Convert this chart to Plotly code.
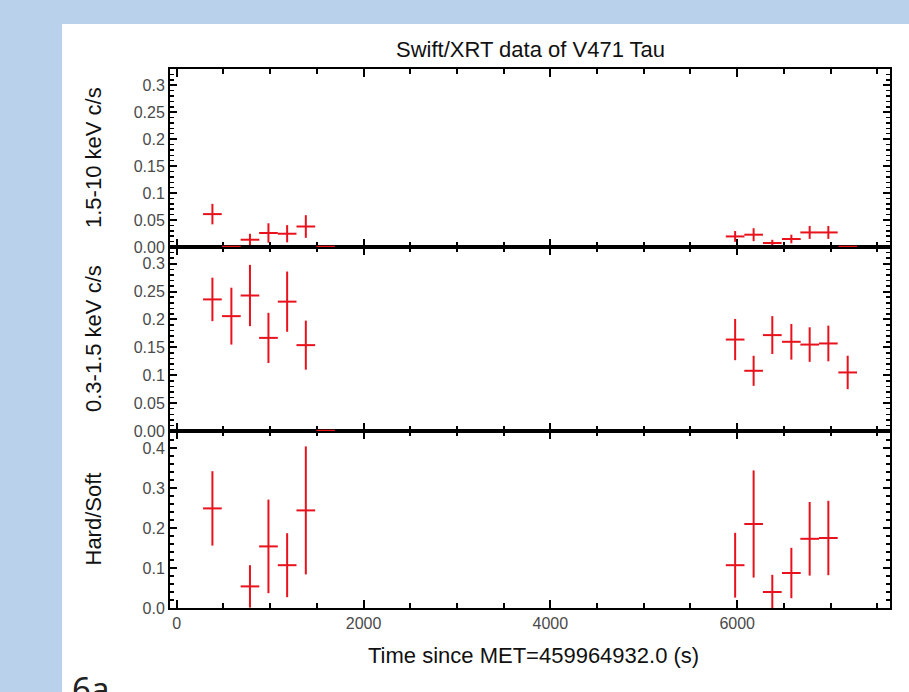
import plotly.graph_objects as go
from plotly.subplots import make_subplots

# ---------------- data ----------------
title_text = "Swift/XRT data of V471 Tau"
x_title = "Time since MET=459964932.0 (s)"
y_titles = ["1.5-10 keV c/s", "0.3-1.5 keV c/s", "Hard/Soft"]

t_bins = [382, 585, 784, 982, 1182, 1382, 1595, 5978, 6176, 6376, 6580, 6776, 6976, 7183]
t_halfwidth = 100

hard = [0.061, 0.0, 0.0135, 0.026, 0.0246, 0.038, 0.0, 0.0196, 0.0228, 0.0074, 0.0148, 0.027, 0.027, 0.0]
hard_err = [0.019, 0.0, 0.011, 0.018, 0.016, 0.021, 0.0, 0.010, 0.012, 0.006, 0.008, 0.012, 0.012, 0.0]

soft = [0.236, 0.206, 0.243, 0.167, 0.232, 0.154, 0.0, 0.164, 0.108, 0.172, 0.160, 0.155, 0.157, 0.105]
soft_err = [0.039, 0.051, 0.055, 0.045, 0.054, 0.044, 0.0, 0.037, 0.027, 0.034, 0.032, 0.031, 0.032, 0.030]

t_hr = [382, 784, 982, 1182, 1382, 5978, 6176, 6376, 6580, 6776, 6976]
hr = [0.249, 0.054, 0.154, 0.107, 0.244, 0.107, 0.210, 0.040, 0.0875, 0.173, 0.175]
hr_err = [0.093, 0.053, 0.117, 0.080, 0.160, 0.081, 0.134, 0.043, 0.063, 0.092, 0.093]

rate_tickvals = [0, 0.05, 0.1, 0.15, 0.2, 0.25, 0.3]
rate_ticktext = ["0.00", "0.05", "0.1", "0.15", "0.2", "0.25", "0.3"]
hr_tickvals = [0, 0.1, 0.2, 0.3, 0.4]
hr_ticktext = ["0.0", "0.1", "0.2", "0.3", "0.4"]
x_tickvals = [0, 2000, 4000, 6000]
x_ticktext = ["0", "2000", "4000", "6000"]

# ---------------- figure ----------------
RED = "#e8121c"
W, H = 909, 692
ML, MR, MT, MB = 170, 19, 69, 84
PW, PH = W - ML - MR, H - MT - MB

fig = make_subplots(rows=3, cols=1, shared_xaxes=True, vertical_spacing=0)


def add_series(x, y, e, row):
    fig.add_trace(go.Scatter(
        x=x, y=y, mode="markers",
        marker=dict(size=1, color=RED, opacity=0),
        error_y=dict(type="data", array=e, color=RED, thickness=2, width=0),
        error_x=dict(type="constant", value=t_halfwidth, color=RED, thickness=2, width=0),
        cliponaxis=False, showlegend=False, hoverinfo="skip",
    ), row=row, col=1)


add_series(t_bins, hard, hard_err, 1)
add_series(t_bins, soft, soft_err, 2)
add_series(t_hr, hr, hr_err, 3)

# zero-valued bins sit on the panel boundary; draw their bin bars above the axes
shapes = []
for vals, (xr, yr) in [(hard, ("x", "y")), (soft, ("x2", "y2"))]:
    for t, v in zip(t_bins, vals):
        if v == 0:
            shapes.append(dict(type="line", xref=xr, yref=yr, layer="above",
                               x0=t - t_halfwidth, x1=t + t_halfwidth, y0=v, y1=v,
                               line=dict(color=RED, width=2.5)))


def ypx(p):
    return (H - MB - p) / PH


dom_top = [ypx(247), 1.0]
dom_mid = [ypx(431), ypx(247)]
dom_bot = [0.0, ypx(431)]

tick_font = dict(family="Liberation Sans, Arial, sans-serif", size=16, color="#4a4a4a")
title_font = dict(family="Liberation Sans, Arial, sans-serif", size=22, color="#111")

common_x = dict(
    range=[-72, 7636], showline=True, linecolor="black", linewidth=2, mirror="ticks",
    ticks="inside", ticklen=8, tickwidth=2, tickcolor="black",
    tickmode="array", tickvals=x_tickvals, ticktext=x_ticktext,
    minor=dict(tickmode="linear", tick0=0, dtick=500, ticks="inside", ticklen=5,
               tickwidth=2, tickcolor="black", showgrid=False),
    showgrid=False, zeroline=False, layer="below traces", tickfont=tick_font,
)
common_y = dict(
    showline=True, linecolor="black", linewidth=2, mirror="ticks",
    ticks="inside", ticklen=7, tickwidth=2, tickcolor="black", tickmode="array",
    showgrid=False, zeroline=False, layer="below traces", tickfont=tick_font,
)

fig.update_xaxes(**common_x)
fig.update_xaxes(showticklabels=False, row=1, col=1)
fig.update_xaxes(showticklabels=False, row=2, col=1)
fig.update_xaxes(showticklabels=True, row=3, col=1)

minor_rate = dict(tickmode="linear", tick0=0, dtick=0.01, ticks="inside", ticklen=4,
                  tickwidth=1.5, tickcolor="black", showgrid=False)
fig.update_yaxes(**common_y)
fig.update_yaxes(domain=dom_top, range=[0, 0.33], tickvals=rate_tickvals, ticktext=rate_ticktext,
                 minor=minor_rate, row=1, col=1)
fig.update_yaxes(domain=dom_mid, range=[0, 0.33], tickvals=rate_tickvals, ticktext=rate_ticktext,
                 minor=minor_rate, row=2, col=1)
fig.update_yaxes(domain=dom_bot, range=[0, 0.4425], tickvals=hr_tickvals, ticktext=hr_ticktext,
                 minor=dict(tickmode="linear", tick0=0, dtick=0.02, ticks="inside", ticklen=4,
                            tickwidth=1.5, tickcolor="black", showgrid=False),
                 row=3, col=1)

annotations = []
for txt, dom in zip(y_titles, [dom_top, dom_mid, dom_bot]):
    annotations.append(dict(
        text=txt, xref="paper", yref="paper", x=(93 - ML) / PW, y=(dom[0] + dom[1]) / 2,
        xanchor="center", yanchor="middle", textangle=-90, showarrow=False, font=title_font,
    ))
annotations.append(dict(
    text=x_title, xref="paper", yref="paper", x=(533 - ML) / PW, y=ypx(655),
    xanchor="center", yanchor="middle", showarrow=False, font=title_font,
))
annotations.append(dict(
    text=title_text, xref="paper", yref="paper", x=(530 - ML) / PW, y=ypx(50),
    xanchor="center", yanchor="middle", showarrow=False, font=title_font,
))
annotations.append(dict(
    text="6a", xref="paper", yref="paper", x=(70 - ML) / PW, y=ypx(664),
    xanchor="left", yanchor="top", showarrow=False,
    font=dict(family="Noto Sans, DejaVu Sans, sans-serif", size=33, color="#222"),
))

shapes.insert(0, dict(type="rect", xref="paper", yref="paper", layer="below",
                      x0=(62 - ML) / PW, x1=1.2, y0=-0.3, y1=ypx(24),
                      fillcolor="white", line=dict(width=0)))

fig.update_layout(
    width=W, height=H,
    margin=dict(l=ML, r=MR, t=MT, b=MB, pad=0),
    paper_bgcolor="#b9d1ea",
    plot_bgcolor="white",
    annotations=annotations,
    shapes=shapes,
)

fig.write_html("out.html",
               config={"displayModeBar": False, "staticPlot": True},
               post_script="document.body.style.margin='0';document.body.style.overflow='hidden';")
